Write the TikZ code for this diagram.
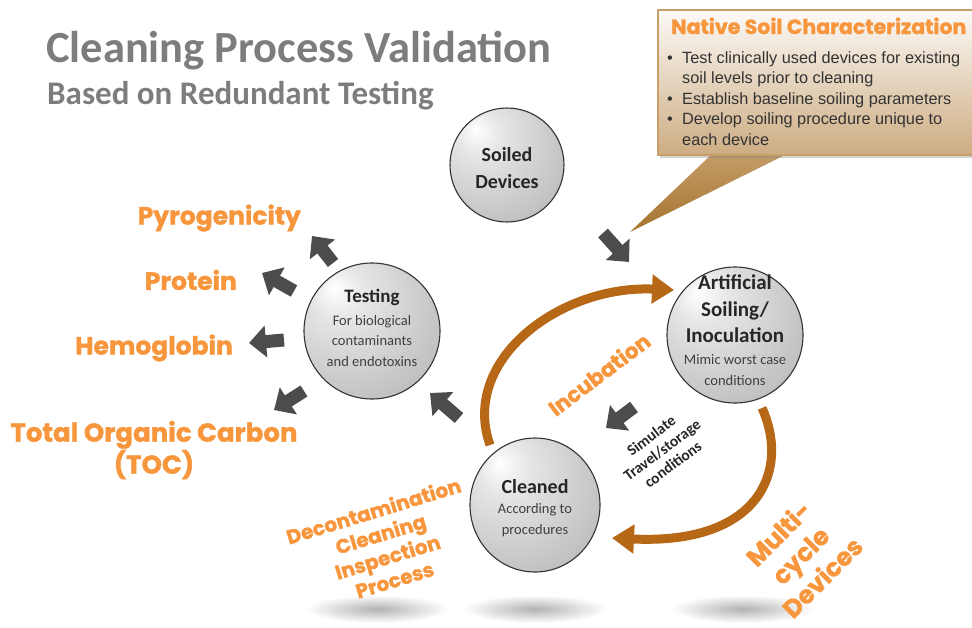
\documentclass[tikz,border=0pt]{standalone}
\usepackage{fontspec}
\setmainfont{Carlito}
\newfontfamily\heavyfont{Poppins}[BoldFeatures={FakeBold=1.3}]
\newfontfamily\arialfont{Liberation Sans}
\usetikzlibrary{arrows.meta,shapes.geometric,shadows}

\definecolor{titlegray}{RGB}{125,125,125}
\definecolor{lblorange}{RGB}{247,150,60}
\definecolor{arcbrown}{RGB}{182,104,22}
\definecolor{boxtop}{RGB}{252,250,247}
\definecolor{boxbottom}{RGB}{205,172,130}
\definecolor{boxedge}{RGB}{200,158,105}
\definecolor{tailtop}{RGB}{196,156,104}
\definecolor{tailbottom}{RGB}{165,115,45}

\pgfdeclareradialshading{sphereshade}{\pgfpoint{-14bp}{16bp}}{%
  color(0bp)=(white); color(10bp)=(white!90!black); color(34bp)=(white!76!black);
  color(58bp)=(white!58!black); color(72bp)=(white!45!black)}

\newcommand\bul{\makebox[15pt][l]{\textbullet}}
\newcommand\ind{\hspace*{15pt}}

\tikzset{
  sphere/.style={circle, draw=black!80, line width=1.1pt, shading=sphereshade, inner sep=0pt},
  spheretitle/.style={align=center, text=black!85, font=\bfseries\fontsize{20}{27}\selectfont},
  spheredesc/.style={align=center, text=black!75, font=\fontsize{14.5}{20.5}\selectfont},
  blockarrow/.style={draw=black!70, line width=13pt, -{Triangle[length=17pt,width=31pt]}},
  brownarc/.style={draw=arcbrown, line width=9pt, -{Triangle[length=22pt,width=28pt]}},
  orangelbl/.style 2 args={text=lblorange, inner sep=0pt, font=\heavyfont\bfseries\fontsize{#1}{#2}\selectfont},
}

\begin{document}
\begin{tikzpicture}[x=1pt,y=-1pt]
    \useasboundingbox (0,0) rectangle (972,627);
    \clip (0,0) rectangle (972,627);

    % title
    \node[anchor=base west, inner sep=0pt, text=titlegray, font=\bfseries\fontsize{44.5}{50}\selectfont] (title) at (46,62) {Cleaning Process Validation};
    \node[anchor=base west, inner sep=0pt, text=titlegray, font=\bfseries\fontsize{33}{38}\selectfont] (subtitle) at (47,104) {Based on Redundant Testing};

    % floor shadows
    \foreach \sx in {377,535,743}
        \shade[inner color=black!30, outer color=white] (\sx,609) ellipse [x radius=72, y radius=14];

    % callout box
    \shade[top color=tailtop, bottom color=tailbottom] (712,154) -- (630,232) -- (787,154) -- cycle;
    \shade[top color=boxtop, bottom color=boxbottom, draw=boxedge, line width=1.5pt,
           drop shadow={opacity=0.35, shadow xshift=2pt, shadow yshift=-3pt}] (658,10) rectangle (990,155);
    \node[anchor=base west, orangelbl={20.5}{24}] (nsc) at (671,34) {Native Soil Characterization};
    \node[anchor=north west, inner sep=0pt, align=left, text=black!80, font=\arialfont\fontsize{16.3}{20.6}\selectfont] (nsc-list) at (667,51)
        {\bul Test clinically used devices for existing\\
         \ind soil levels prior to cleaning\\
         \bul Establish baseline soiling parameters\\
         \bul Develop soiling procedure unique to\\
         \ind each device};

    % spheres
    \node[sphere, minimum size=114pt] (soiled) at (507,165) {};
    \node[sphere, minimum size=136pt] (test) at (372,331) {};
    \node[sphere, minimum size=136pt] (artif) at (735,335) {};
    \node[sphere, ellipse, minimum width=130pt, minimum height=134pt] (clean) at (535,505) {};

    % sphere texts
    \node[spheretitle] (soiled-t) at (507,168) {Soiled\\Devices};
    \node[spheretitle, font=\bfseries\fontsize{19}{22}\selectfont] (test-t) at (372,297) {Testing};
    \node[spheredesc] (test-d) at (372,341) {For biological\\contaminants\\and endotoxins};
    \node[spheretitle, font=\bfseries\fontsize{21}{26.5}\selectfont] (artif-t) at (735,309) {Artificial\\Soiling/\\Inoculation};
    \node[spheredesc] (artif-d) at (735,370) {Mimic worst case\\conditions};
    \node[spheretitle] (clean-t) at (535,487) {Cleaned};
    \node[spheredesc] (clean-d) at (535,520) {According to\\procedures};

    % block arrows
    \foreach \n/\t/\h in {soil/{603,233}/{629,262}, pyro/{333,263}/{312,236}, prot/{294,291}/{262,273},
                          hemo/{284,340}/{249,343}, toc/{304,391}/{274,410}, back/{459,418}/{430,393},
                          simul/{634,407}/{606,428}} {
        \coordinate (\n-tail) at (\t);
        \coordinate (\n-head) at (\h);
        \draw[blockarrow] (\n-tail) -- (\n-head);
    }

    % cycle arcs
    \coordinate (inc-start) at (490,445);
    \coordinate (inc-end) at (674,290);
    \draw[brownarc] (inc-start) .. controls (460,360) and (560,285) .. (inc-end);
    \coordinate (mc-start) at (762,408);
    \coordinate (mc-end) at (612,538);
    \draw[brownarc] (mc-start) .. controls (790,470) and (760,545) .. (mc-end);

    % orange labels
    \node[anchor=east, orangelbl={25}{30}] (pyro) at (301,218) {Pyrogenicity};
    \node[anchor=east, orangelbl={25}{30}] (prot) at (237,280) {Protein};
    \node[anchor=east, orangelbl={25}{30}] (hemo) at (233,348) {Hemoglobin};
    \node[align=center, orangelbl={26}{32}] (toc) at (154,450) {Total Organic Carbon\\(TOC)};
    \node[rotate=37, orangelbl={21.5}{25}] (incub) at (599,374) {Incubation};
    \node[rotate=17, align=center, orangelbl={20}{24}] (decon) at (384,545) {Decontamination\\Cleaning\\Inspection\\Process};
    \node[rotate=45, align=center, orangelbl={25}{31}] (multi) at (800,555) {Multi-\\cycle\\Devices};
    \node[rotate=37, align=center, text=black!85, font=\bfseries\fontsize{15.5}{18}\selectfont] (simul) at (662,450) {Simulate\\Travel/storage\\conditions};
\end{tikzpicture}
\end{document}
